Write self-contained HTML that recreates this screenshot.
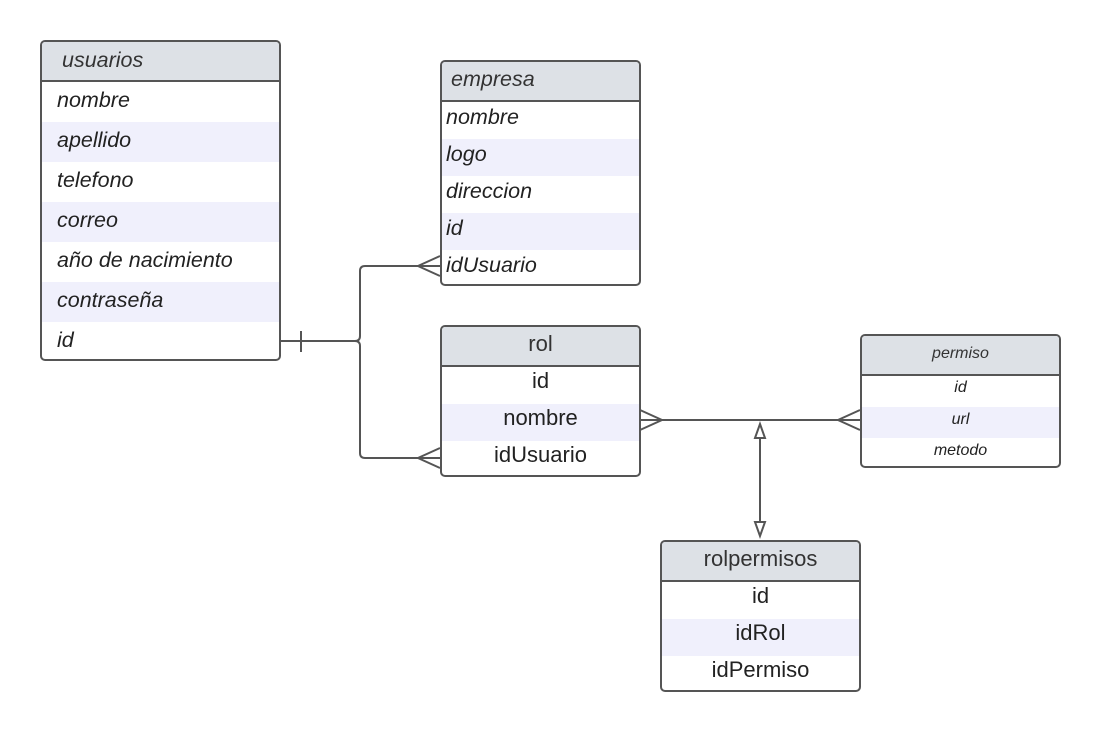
<!DOCTYPE html>
<html><head><meta charset="utf-8"><style>
body{margin:0;width:1100px;height:731px;background:#fff;position:relative;font-family:"Liberation Sans",sans-serif;overflow:hidden}
.t{position:absolute;border:2px solid #555;border-radius:5px;box-sizing:border-box;overflow:hidden;background:#fff}
.h{background:#dde1e6;border-bottom:2px solid #555;box-sizing:border-box;color:#333}
.r{box-sizing:border-box;color:#222}
.s{background:#f0f0fc}
.i{font-style:italic}
svg{position:absolute;left:0;top:0}
</style></head><body>
<svg width="1100" height="731" fill="none" stroke="#555" stroke-width="2">
<path d="M280 341H355Q360 341 360 336V271Q360 266 365 266H440"/>
<path d="M355 341Q360 341 360 346V453Q360 458 365 458H440"/>
<path d="M301 331V352"/>
<path d="M440 256L418 266L440 276M418 266H440"/>
<path d="M440 448L418 458L440 468"/>
<path d="M640 420H860"/>
<path d="M640 410L662 420L640 430"/>
<path d="M860 410L838 420L860 430"/>
<path d="M760 438V522"/>
<path d="M755 438L760 424L765 438Z"/>
<path d="M755 522L760 536L765 522Z"/>
</svg>
<div class="t i" style="left:40px;top:40px;width:241px;height:321px;font-size:21.5px">
<div class="h" style="height:40px;line-height:36px;padding-left:20px">usuarios</div>
<div class="r" style="height:40px;line-height:36px;padding-left:15px">nombre</div>
<div class="r s" style="height:40px;line-height:36px;padding-left:15px">apellido</div>
<div class="r" style="height:40px;line-height:36px;padding-left:15px">telefono</div>
<div class="r s" style="height:40px;line-height:36px;padding-left:15px">correo</div>
<div class="r" style="height:40px;line-height:36px;padding-left:15px">año de nacimiento</div>
<div class="r s" style="height:40px;line-height:36px;padding-left:15px">contraseña</div>
<div class="r" style="height:40px;line-height:36px;padding-left:15px">id</div>
</div>
<div class="t i" style="left:440px;top:60px;width:201px;height:226px;font-size:21.5px">
<div class="h" style="height:40px;line-height:34px;padding-left:9px">empresa</div>
<div class="r" style="height:37px;line-height:30px;padding-left:4px">nombre</div>
<div class="r s" style="height:37px;line-height:30px;padding-left:4px">logo</div>
<div class="r" style="height:37px;line-height:30px;padding-left:4px">direccion</div>
<div class="r s" style="height:37px;line-height:30px;padding-left:4px">id</div>
<div class="r" style="height:37px;line-height:30px;padding-left:4px">idUsuario</div>
</div>
<div class="t" style="left:440px;top:325px;width:201px;height:152px;font-size:22px;text-align:center">
<div class="h" style="height:40px;line-height:34px">rol</div>
<div class="r" style="height:37px;line-height:28px">id</div>
<div class="r s" style="height:37px;line-height:28px">nombre</div>
<div class="r" style="height:37px;line-height:28px">idUsuario</div>
</div>
<div class="t i" style="left:860px;top:334px;width:201px;height:134px;font-size:16px;text-align:center">
<div class="h" style="height:40px;line-height:36px">permiso</div>
<div class="r" style="height:31px;line-height:23px">id</div>
<div class="r s" style="height:31px;line-height:25px">url</div>
<div class="r" style="height:31px;line-height:25px">metodo</div>
</div>
<div class="t" style="left:660px;top:540px;width:201px;height:152px;font-size:22px;text-align:center">
<div class="h" style="height:40px;line-height:34px">rolpermisos</div>
<div class="r" style="height:37px;line-height:28px">id</div>
<div class="r s" style="height:37px;line-height:28px">idRol</div>
<div class="r" style="height:37px;line-height:28px">idPermiso</div>
</div>
</body></html>
